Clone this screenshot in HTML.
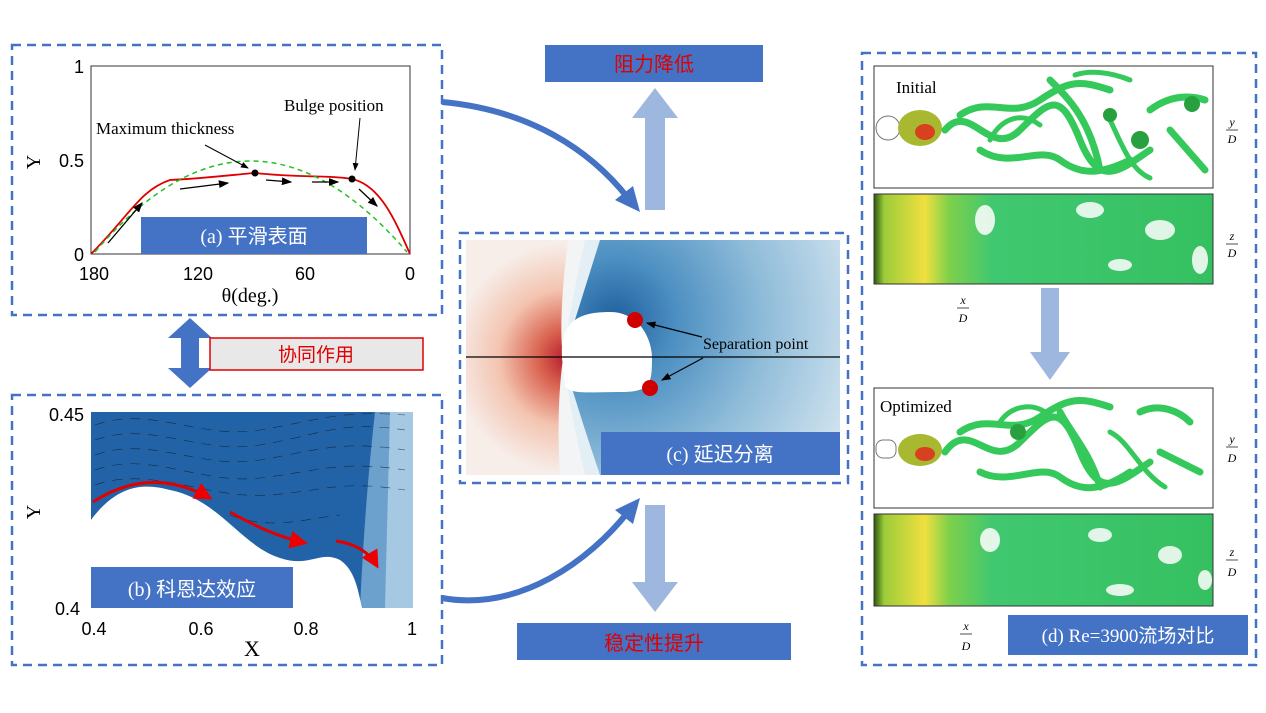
<!DOCTYPE html>
<html><head><meta charset="utf-8"><style>
html,body{margin:0;padding:0;background:#fff;}
svg{display:block;font-family:"Liberation Serif","Noto Sans CJK SC",serif;}
.cn{font-family:"Liberation Serif","Noto Sans CJK SC",serif;}
</style></head><body>
<svg width="1266" height="713" viewBox="0 0 1266 713" xmlns="http://www.w3.org/2000/svg">
<defs>
<radialGradient id="red" cx="568" cy="358" r="115" gradientUnits="userSpaceOnUse">
<stop offset="0" stop-color="#b2182b"/><stop offset="0.25" stop-color="#d9624f"/><stop offset="0.6" stop-color="#f3c4b0"/><stop offset="1" stop-color="#f7ede9"/></radialGradient>
<radialGradient id="blue" cx="615" cy="320" r="250" gradientUnits="userSpaceOnUse">
<stop offset="0" stop-color="#1f5f9f"/><stop offset="0.25" stop-color="#4d90c2"/><stop offset="0.6" stop-color="#8fbcd9"/><stop offset="1" stop-color="#cfe2ee"/></radialGradient>
<linearGradient id="side" x1="0" x2="1"><stop offset="0" stop-color="#2e5a12"/><stop offset="0.03" stop-color="#9ccc3a"/><stop offset="0.15" stop-color="#f0e040"/><stop offset="0.22" stop-color="#7fd04a"/><stop offset="0.35" stop-color="#40c870"/><stop offset="1" stop-color="#35c060"/></linearGradient>
<marker id="ah" markerWidth="8" markerHeight="8" refX="7" refY="4" orient="auto"><path d="M0,1 L8,4 L0,7z" fill="#000"/></marker>
<marker id="rh" markerWidth="6" markerHeight="6" refX="5" refY="3" orient="auto"><path d="M0,0 L6,3 L0,6z" fill="#e00"/></marker>
</defs>

<!-- Panel a -->
<rect x="12" y="45" width="430" height="270" fill="none" stroke="#4472c4" stroke-width="2.5" stroke-dasharray="9,6"/>
<rect x="91" y="66" width="319" height="188" fill="none" stroke="#333" stroke-width="1"/>
<path d="M91,254 C130,215 140,190 170,180 C210,178 240,174 255,173 C300,178 330,175 352,179 C380,185 395,220 410,254" fill="none" stroke="#e00000" stroke-width="1.8"/>
<path d="M95,252 Q250,70 407,252" fill="none" stroke="#22c022" stroke-width="1.5" stroke-dasharray="5,4"/>
<circle cx="255" cy="173" r="3.5" fill="#000"/><circle cx="352" cy="179" r="3.5" fill="#000"/>
<line x1="205" y1="145" x2="248" y2="168" stroke="#000" marker-end="url(#ah)"/>
<line x1="360" y1="118" x2="355" y2="170" stroke="#000" marker-end="url(#ah)"/>
<g stroke="#000" stroke-width="1.3" marker-end="url(#ah)">
<line x1="108" y1="243" x2="142" y2="203"/><line x1="180" y1="189" x2="228" y2="183"/>
<line x1="266" y1="180" x2="291" y2="182"/><line x1="312" y1="182" x2="338" y2="182"/><line x1="359" y1="189" x2="377" y2="206"/>
</g>
<text x="96" y="134" font-size="17">Maximum thickness</text>
<text x="284" y="111" font-size="17">Bulge position</text>
<rect x="141" y="217" width="226" height="37" fill="#4472c4"/>
<text x="254" y="243" font-size="20" fill="#fff" text-anchor="middle" class="cn">(a) 平滑表面</text>
<g font-family="Liberation Sans" font-size="18" text-anchor="end"><text x="84" y="73">1</text><text x="84" y="167">0.5</text><text x="84" y="261">0</text></g>
<g font-family="Liberation Sans" font-size="18" text-anchor="middle"><text x="94" y="280">180</text><text x="198" y="280">120</text><text x="305" y="280">60</text><text x="410" y="280">0</text></g>
<text x="250" y="302" font-size="20" text-anchor="middle">θ(deg.)</text>
<text x="40" y="162" font-size="20" transform="rotate(-90 40 162)" text-anchor="middle">Y</text>

<!-- double arrow -->
<path d="M190,318 L168,338 L181,338 L181,368 L168,368 L190,388 L212,368 L199,368 L199,338 L212,338z" fill="#4472c4"/>
<rect x="210" y="338" width="213" height="32" fill="#e8e8e8" stroke="#e00000" stroke-width="1.5"/>
<text x="316" y="361" font-size="19" fill="#e00000" text-anchor="middle" class="cn">协同作用</text>

<!-- Panel b -->
<rect x="12" y="395" width="430" height="270" fill="none" stroke="#4472c4" stroke-width="2.5" stroke-dasharray="9,6"/>
<rect x="91" y="412" width="322" height="196" fill="#2263a8"/>
<path d="M375,412 L413,412 L413,608 L360,608 Q365,500 375,412z" fill="#7fb0d6" opacity="0.8"/>
<path d="M390,412 L413,412 L413,608 L385,608z" fill="#b5d3e8" opacity="0.8"/>
<path d="M91,520 C120,480 150,485 170,490 C220,500 240,545 280,558 C310,568 320,550 340,560 C355,570 358,590 362,608 L91,608z" fill="#fff"/>
<g stroke="#111" stroke-width="0.6" opacity="0.7">
<path d="M95,440 C150,420 200,455 260,445 S340,420 405,430" fill="none" stroke-dasharray="10,8"/>
<path d="M95,455 C150,435 200,470 260,460 S340,440 405,450" fill="none" stroke-dasharray="10,8"/>
<path d="M95,470 C150,450 200,485 260,478 S340,460 405,470" fill="none" stroke-dasharray="10,8"/>
<path d="M95,485 C150,465 210,500 270,495 S340,480 405,490" fill="none" stroke-dasharray="10,8"/>
<path d="M95,425 C150,405 200,440 260,430 S340,410 405,415" fill="none" stroke-dasharray="10,8"/>
<path d="M230,515 C270,530 300,520 340,515" fill="none" stroke-dasharray="10,8"/>
</g>
<g stroke="#e00000" stroke-width="3" fill="none" marker-end="url(#rh)">
<path d="M93,502 Q150,465 210,498"/><path d="M230,512 Q270,535 305,543"/><path d="M336,541 Q365,545 377,566"/>
</g>
<rect x="91" y="567" width="202" height="41" fill="#4472c4"/>
<text x="192" y="596" font-size="20" fill="#fff" text-anchor="middle" class="cn">(b) 科恩达效应</text>
<g font-family="Liberation Sans" font-size="18" text-anchor="end"><text x="84" y="421">0.45</text><text x="80" y="615">0.4</text></g>
<g font-family="Liberation Sans" font-size="18" text-anchor="middle"><text x="94" y="635">0.4</text><text x="201" y="635">0.6</text><text x="306" y="635">0.8</text><text x="412" y="635">1</text></g>
<text x="252" y="656" font-size="22" text-anchor="middle">X</text>
<text x="40" y="512" font-size="20" transform="rotate(-90 40 512)" text-anchor="middle">Y</text>

<!-- curved arrows -->
<path d="M442,102 C530,110 590,150 628,198" fill="none" stroke="#4472c4" stroke-width="6"/>
<path d="M640,212 L615,200 L633,186z" fill="#4472c4"/>
<path d="M442,598 C520,612 590,560 628,512" fill="none" stroke="#4472c4" stroke-width="6"/>
<path d="M640,498 L615,510 L633,524z" fill="#4472c4"/>

<!-- top / bottom -->
<rect x="545" y="45" width="218" height="37" fill="#4472c4"/>
<text x="654" y="71" font-size="20" fill="#e00000" text-anchor="middle" class="cn">阻力降低</text>
<path d="M655,88 L632,118 L645,118 L645,210 L665,210 L665,118 L678,118z" fill="#9db7df"/>
<path d="M655,612 L632,582 L645,582 L645,505 L665,505 L665,582 L678,582z" fill="#9db7df"/>
<rect x="517" y="623" width="274" height="37" fill="#4472c4"/>
<text x="654" y="650" font-size="20" fill="#e00000" text-anchor="middle" class="cn">稳定性提升</text>

<!-- Panel c -->
<rect x="460" y="233" width="388" height="250" fill="none" stroke="#4472c4" stroke-width="2.5" stroke-dasharray="9,6"/>
<rect x="466" y="240" width="374" height="235" fill="url(#blue)"/>
<path d="M600,240 Q575,320 563,358 Q578,410 600,475 L466,475 L466,240z" fill="#e4eef5"/>
<path d="M585,240 Q568,320 563,358 Q570,410 585,475 L466,475 L466,240z" fill="#f3f4f5"/>
<path d="M568,240 Q558,320 563,358 Q556,410 560,475 L466,475 L466,240z" fill="url(#red)"/>
<path d="M562,358 C560,320 580,312 610,312 C640,312 652,340 652,358 C652,385 650,392 620,392 C590,392 568,395 565,385z" fill="#fff"/>
<line x1="466" y1="357" x2="840" y2="357" stroke="#000" stroke-width="1.2"/>
<circle cx="635" cy="320" r="8" fill="#d00000"/><circle cx="650" cy="388" r="8" fill="#d00000"/>
<line x1="702" y1="337" x2="647" y2="323" stroke="#000" stroke-width="1.2" marker-end="url(#ah)"/>
<line x1="703" y1="358" x2="662" y2="380" stroke="#000" stroke-width="1.2" marker-end="url(#ah)"/>
<text x="703" y="349" font-size="16">Separation point</text>
<rect x="601" y="432" width="239" height="43" fill="#4472c4"/>
<text x="720" y="461" font-size="20" fill="#fff" text-anchor="middle" class="cn">(c) 延迟分离</text>

<!-- Panel d -->
<rect x="862" y="53" width="394" height="612" fill="none" stroke="#4472c4" stroke-width="2.5" stroke-dasharray="9,6"/>
<rect x="874" y="66" width="339" height="122" fill="#fff" stroke="#333"/>
<circle cx="888" cy="128" r="12" fill="#fff" stroke="#777"/>
<ellipse cx="920" cy="128" rx="22" ry="18" fill="#a8b830"/><ellipse cx="925" cy="132" rx="10" ry="8" fill="#d84020"/>
<g fill="none" stroke="#35c85a" stroke-width="7" stroke-linecap="round">
<path d="M945,130 C970,100 990,160 1020,130 S1060,90 1080,140 S1120,170 1150,150"/>
<path d="M960,115 C990,95 1010,120 1040,100 S1080,80 1110,90"/>
<path d="M980,150 C1010,170 1040,145 1060,160 S1100,175 1130,160"/>
<path d="M1050,80 C1070,100 1090,120 1100,170"/>
<path d="M1150,110 C1170,95 1190,95 1205,100"/>
<path d="M1170,130 L1205,170"/>
<path d="M990,140 C1000,120 1020,110 1040,125" stroke-width="5"/>
<path d="M1075,75 C1090,70 1110,72 1130,80" stroke-width="5"/>
<path d="M1110,120 C1120,140 1130,170 1150,178" stroke-width="5"/>
</g>
<circle cx="1140" cy="140" r="9" fill="#28a040"/><circle cx="1192" cy="104" r="8" fill="#28a040"/><circle cx="1110" cy="115" r="7" fill="#28a040"/>
<text x="896" y="93" font-size="17">Initial</text>
<rect x="874" y="194" width="339" height="90" fill="url(#side)" stroke="#333"/>
<g fill="#fff" opacity="0.85"><ellipse cx="985" cy="220" rx="10" ry="15"/><ellipse cx="1090" cy="210" rx="14" ry="8"/><ellipse cx="1160" cy="230" rx="15" ry="10"/><ellipse cx="1200" cy="260" rx="8" ry="14"/><ellipse cx="1120" cy="265" rx="12" ry="6"/></g>
<g font-size="12" font-style="italic" text-anchor="middle">
<text x="1232" y="126">y</text><line x1="1226" y1="130" x2="1238" y2="130" stroke="#000" stroke-width="0.7"/><text x="1232" y="143">D</text>
<text x="1232" y="240">z</text><line x1="1226" y1="244" x2="1238" y2="244" stroke="#000" stroke-width="0.7"/><text x="1232" y="257">D</text>
<text x="963" y="304">x</text><line x1="957" y1="308" x2="969" y2="308" stroke="#000" stroke-width="0.7"/><text x="963" y="322">D</text>
<text x="1232" y="443">y</text><line x1="1226" y1="447" x2="1238" y2="447" stroke="#000" stroke-width="0.7"/><text x="1232" y="462">D</text>
<text x="1232" y="556">z</text><line x1="1226" y1="560" x2="1238" y2="560" stroke="#000" stroke-width="0.7"/><text x="1232" y="576">D</text>
<text x="966" y="630">x</text><line x1="960" y1="634" x2="972" y2="634" stroke="#000" stroke-width="0.7"/><text x="966" y="650">D</text>
</g>
<path d="M1050,380 L1030,352 L1041,352 L1041,288 L1059,288 L1059,352 L1070,352z" fill="#9db7df"/>
<g transform="translate(0,322)">
<rect x="874" y="66" width="339" height="120" fill="#fff" stroke="#333"/>
<rect x="876" y="118" width="20" height="18" rx="7" fill="#fff" stroke="#777"/>
<ellipse cx="920" cy="128" rx="22" ry="16" fill="#a8b830"/><ellipse cx="925" cy="132" rx="10" ry="7" fill="#d84020"/>
<g fill="none" stroke="#35c85a" stroke-width="7" stroke-linecap="round">
<path d="M945,130 C970,95 990,150 1020,120 S1060,80 1080,130 S1120,160 1150,140"/>
<path d="M960,110 C990,90 1010,115 1040,95 S1080,75 1110,85"/>
<path d="M980,150 C1010,165 1040,140 1060,155 S1100,170 1130,150"/>
<path d="M1060,90 C1070,110 1090,130 1100,165"/>
<path d="M1140,90 C1160,80 1180,90 1190,100"/>
<path d="M1160,130 L1200,150"/>
<path d="M1000,100 C1010,85 1030,80 1045,90" stroke-width="5"/>
<path d="M1110,110 C1130,120 1140,150 1165,165" stroke-width="5"/>
</g>
<circle cx="1018" cy="110" r="8" fill="#28a040"/>
</g>
<text x="880" y="412" font-size="17">Optimized</text>
<rect x="874" y="514" width="339" height="92" fill="url(#side)" stroke="#333"/>
<g fill="#fff" opacity="0.85"><ellipse cx="990" cy="540" rx="10" ry="12"/><ellipse cx="1100" cy="535" rx="12" ry="7"/><ellipse cx="1170" cy="555" rx="12" ry="9"/><ellipse cx="1120" cy="590" rx="14" ry="6"/><ellipse cx="1205" cy="580" rx="7" ry="10"/></g>
<rect x="1008" y="615" width="240" height="40" fill="#4472c4"/>
<text x="1128" y="642" font-size="19" fill="#fff" text-anchor="middle" class="cn">(d) Re=3900流场对比</text>
</svg>
</body></html>
